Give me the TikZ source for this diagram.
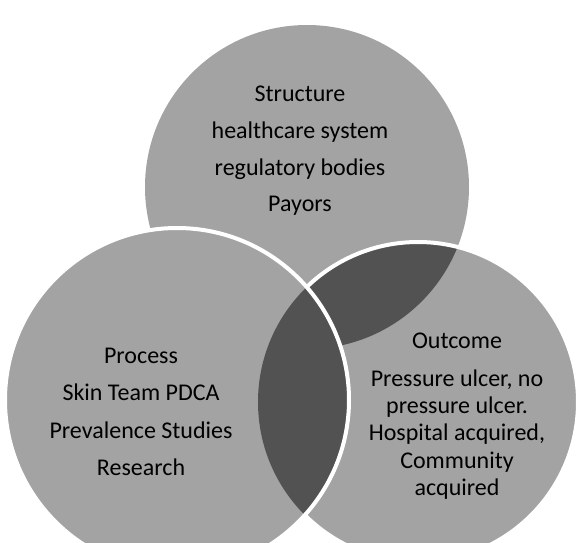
\documentclass[tikz,border=0pt]{standalone}
\usepackage{fontspec}
\setmainfont{Carlito}
\begin{document}
\begin{tikzpicture}[x=1pt,y=-1pt,
  lightfill/.style={fill=black!36},
  darkfill/.style={fill=black!68},
  whiteline/.style={draw=white,line width=4pt},
  label/.style={align=center,text=black,inner sep=0pt}]
\useasboundingbox (0,0) rectangle (576,542);
\coordinate (T) at (307,187);
\coordinate (L) at (177,400);
\coordinate (R) at (418,402);
% top circle
\fill[lightfill] (T) circle[radius=162pt];
% right circle
\fill[lightfill] (R) circle[radius=160pt];
\begin{scope}
  \clip (T) circle[radius=162pt];
  \fill[darkfill] (R) circle[radius=160pt];
\end{scope}
\draw[whiteline] (R) circle[radius=160pt];
% left circle
\fill[lightfill] (L) circle[radius=172pt];
\begin{scope}
  \clip (L) circle[radius=172pt];
  \fill[darkfill] (R) circle[radius=160pt];
\end{scope}
\draw[whiteline] (L) circle[radius=172pt];
% texts
\node[label,font=\fontsize{24}{36.7}\selectfont] (structure) at (300,151)
  {Structure\\healthcare system\\regulatory bodies\\Payors};
\node[label,font=\fontsize{24}{37.5}\selectfont] (process) at (141,412)
  {Process\\Skin Team PDCA\\Prevalence Studies\\Research};
\node[label,font=\fontsize{24}{27.3}\selectfont] (outcome) at (457,416)
  {Outcome\\[10.5pt]Pressure ulcer, no\\pressure ulcer.\\Hospital acquired,\\Community\\acquired};
\end{tikzpicture}
\end{document}
